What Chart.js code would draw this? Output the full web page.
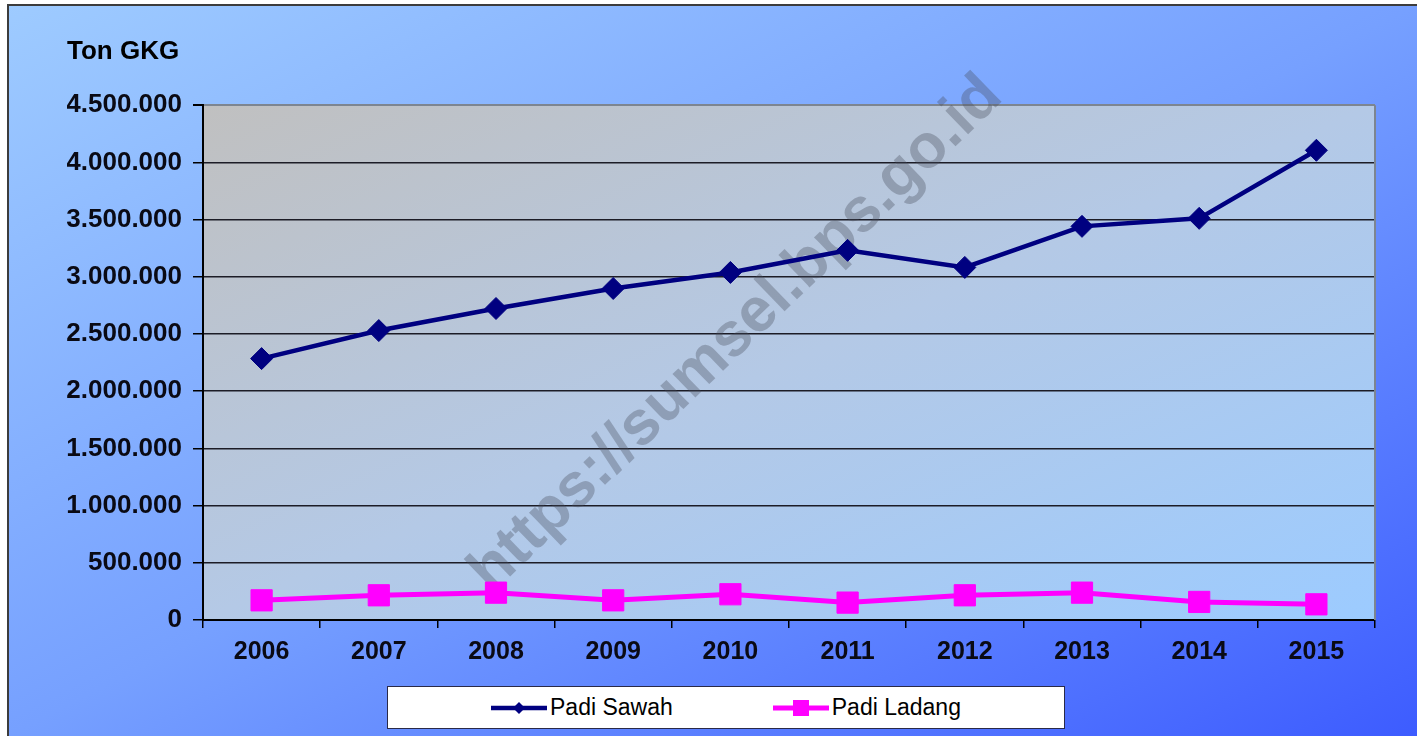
<!DOCTYPE html>
<html>
<head>
<meta charset="utf-8">
<script src="https://cdn.jsdelivr.net/npm/chart.js"></script>
<style>
  body { margin: 0; background: #fff; }
  #wrap { position: relative; width: 1417px; height: 736px; }
  #legend {
    position: absolute; left: 387px; top: 686px; width: 676px; height: 41px;
    background: #fff; border: 1px solid #2a2a48;
    display: flex; align-items: center; justify-content: center; gap: 100px;
    font-family: Arial, "Liberation Sans", sans-serif; font-size: 23px; color: #000;
  }
  #legend .item { display: flex; align-items: center; gap: 3px; }
  #legend svg { display: block; }
</style>
</head>
<body>
<div id="wrap">
  <canvas id="grafik" width="1417" height="736"></canvas>
  <div id="legend"></div>
</div>
<script>
// data produksi padi sumsel (Ton GKG)
var tahun = ["2006", "2007", "2008", "2009", "2010", "2011", "2012", "2013", "2014", "2015"];
var padiSawah = [2285000, 2530000, 2723000, 2898000, 3038000, 3231000, 3082000, 3441000, 3511000, 4106000];
var padiLadang = [172000, 216000, 239000, 172000, 225000, 152000, 216000, 239000, 158000, 137000];
var yMax = 4500000;
var yStep = 500000;

var hurufTebal = { family: 'Arial, "Liberation Sans", sans-serif', size: 26, weight: 'bold' };
var hurufTahun = { family: 'Arial, "Liberation Sans", sans-serif', size: 25, weight: 'bold' };

// gradien diagonal ala excel (garis warna sejajar diagonal lain)
function gradienDiagonal(ctx, x, y, w, h, stops) {
    var k = 2 * w * h / (w * w + h * h);
    var g = ctx.createLinearGradient(x, y, x + k * h, y + k * w);
    stops.forEach(function (s) { g.addColorStop(s[0], s[1]); });
    return g;
}

var latar = {
    id: 'latar',
    beforeDraw: function (chart) {
        var ctx = chart.ctx, a = chart.chartArea;
        ctx.save();
        ctx.fillStyle = '#fff';
        ctx.fillRect(0, 0, chart.width, chart.height);
        ctx.fillStyle = gradienDiagonal(ctx, 8, 5, chart.width - 8, chart.height - 5,
            [[0, '#9ecbff'], [0.5, '#76a0ff'], [1, '#3d5cff']]);
        ctx.fillRect(8, 5, chart.width - 8, chart.height - 5);
        ctx.strokeStyle = '#3c3c3c';
        ctx.lineWidth = 2;
        ctx.beginPath();
        ctx.moveTo(8, chart.height);
        ctx.lineTo(8, 5);
        ctx.lineTo(chart.width, 5);
        ctx.stroke();
        // area plot
        ctx.fillStyle = gradienDiagonal(ctx, a.left, a.top, a.width, a.height,
            [[0, '#c0c0c0'], [0.5, '#b4c9e6'], [1, '#9ccbff']]);
        ctx.fillRect(a.left, a.top, a.width, a.height);
        ctx.restore();
    }
};

var watermark = {
    id: 'watermark',
    beforeDatasetsDraw: function (chart) {
        var ctx = chart.ctx, a = chart.chartArea;
        ctx.save();
        // garis kanan area plot
        ctx.strokeStyle = '#7d8590';
        ctx.lineWidth = 2;
        ctx.beginPath();
        ctx.moveTo(a.right, a.top);
        ctx.lineTo(a.right, a.bottom);
        ctx.stroke();
        ctx.translate(a.left + a.width * 0.455, a.top + a.height * 0.445);
        ctx.rotate(-44 * Math.PI / 180);
        ctx.font = 'bold 62px Arial, "Liberation Sans", sans-serif';
        ctx.fillStyle = 'rgba(70, 75, 90, 0.34)';
        ctx.textAlign = 'center';
        ctx.textBaseline = 'middle';
        ctx.fillText('https://sumsel.bps.go.id', 0, 0);
        ctx.restore();
    }
};

// legend html (kotak putih di bawah)
function contohGaris(ds) {
    var c = ds.borderColor, m;
    if (ds.pointStyle === 'rectRot') {
        m = '<polygon points="28,6 34,12 28,18 22,12" fill="' + c + '"/>';
    } else {
        m = '<rect x="20" y="4" width="16" height="16" fill="' + c + '"/>';
    }
    return '<svg width="56" height="24"><line x1="0" y1="12" x2="56" y2="12" stroke="' + c +
        '" stroke-width="' + ds.borderWidth + '"/>' + m + '</svg>';
}

var legendHtml = {
    id: 'legendHtml',
    afterUpdate: function (chart) {
        var box = document.getElementById('legend');
        box.innerHTML = '';
        chart.data.datasets.forEach(function (ds) {
            var item = document.createElement('div');
            item.className = 'item';
            item.innerHTML = contohGaris(ds);
            var t = document.createElement('span');
            t.textContent = ds.label;
            item.appendChild(t);
            box.appendChild(item);
        });
    }
};

var grafik = new Chart(document.getElementById('grafik'), {
    type: 'line',
    data: {
        labels: tahun,
        datasets: [{
            label: 'Padi Sawah',
            data: padiSawah,
            borderColor: '#000080',
            backgroundColor: '#000080',
            borderWidth: 4.5,
            pointStyle: 'rectRot',
            pointRadius: 11,
            pointBorderWidth: 1,
            tension: 0
        },
        {
            label: 'Padi Ladang',
            data: padiLadang,
            borderColor: '#ff00ff',
            backgroundColor: '#ff00ff',
            borderWidth: 5,
            pointStyle: 'rect',
            pointRadius: 15,
            pointBorderWidth: 1,
            tension: 0
        }]
    },
    options: {
        responsive: false,
        animation: false,
        layout: {
            padding: { left: 67, right: 42, top: 0, bottom: 60 }
        },
        plugins: {
            legend: { display: false },
            tooltip: { enabled: false },
            title: {
                display: true,
                text: 'Ton GKG',
                align: 'start',
                color: '#000',
                font: hurufTebal,
                padding: { top: 36, bottom: 38 }
            }
        },
        scales: {
            x: {
                offset: true,
                grid: { offset: true, drawOnChartArea: false, color: '#000', tickLength: 8, lineWidth: 1.5 },
                border: { color: '#000', width: 2 },
                ticks: { color: '#0a0a14', font: hurufTahun, padding: 9 }
            },
            y: {
                min: 0,
                max: yMax,
                afterFit: function (s) { s.width = 136; },
                grid: {
                    color: function (c) { return c.tick && c.tick.value === yMax ? '#7d8590' : '#1c1c26'; },
                    tickColor: '#000',
                    lineWidth: function (c) { return c.tick && c.tick.value === yMax ? 2 : 1.5; },
                    tickLength: 10
                },
                border: { color: '#000', width: 2 },
                ticks: {
                    stepSize: yStep,
                    color: '#0a0a14',
                    font: hurufTebal,
                    padding: 11,
                    callback: function (v) {
                        return String(v).replace(/\B(?=(\d{3})+(?!\d))/g, '.');
                    }
                }
            }
        }
    },
    plugins: [latar, watermark, legendHtml]
});
</script>
</body>
</html>
